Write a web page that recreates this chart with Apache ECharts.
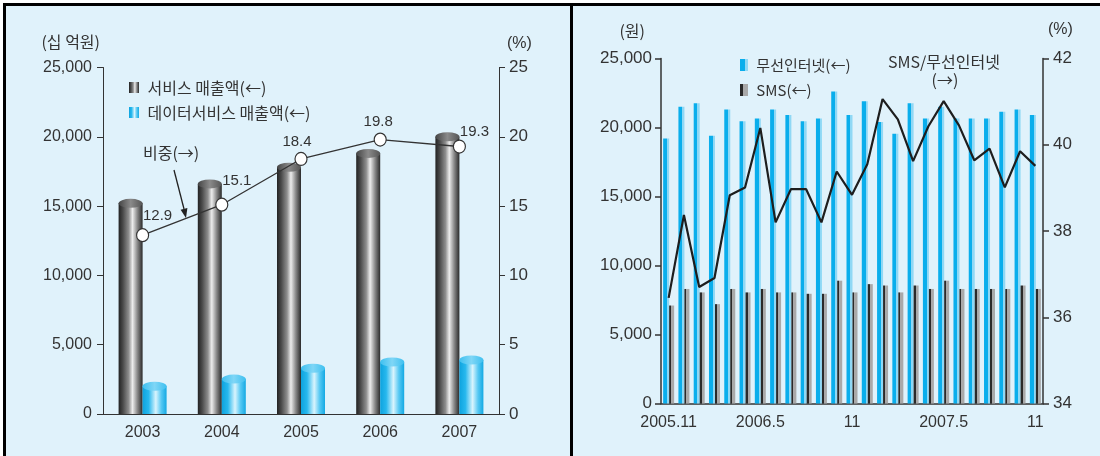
<!DOCTYPE html>
<html><head><meta charset="utf-8">
<script src="https://cdn.jsdelivr.net/npm/echarts@6/dist/echarts.min.js"></script>
<style>
html,body{margin:0;padding:0;background:#fff;}
#bg{position:absolute;left:3px;top:3px;width:1097px;height:453px;background:#e0f2fb;border-top:3px solid #000;border-left:3px solid #000;box-sizing:border-box;}
#sep{position:absolute;left:570px;top:3px;width:3px;height:453px;background:#000;}
#chart{position:absolute;left:0;top:0;width:1100px;height:456px;}
</style></head><body>
<div id="bg"></div><div id="sep"></div><div id="chart"></div>
<script>
// ---------- Left chart data ----------
const years = ['2003', '2004', '2005', '2006', '2007'];
const serviceSales = [15200, 16600, 17800, 18800, 20000];      // 서비스 매출액 (십 억원)
const dataServiceSales = [2000, 2520, 3300, 3750, 3900];       // 데이터서비스 매출액
const dataShare = [12.9, 15.1, 18.4, 19.8, 19.3];              // 비중 (%)

// ---------- Right chart data ----------
const months = ['2005.11','2005.12','2006.1','2006.2','2006.3','2006.4','2006.5','2006.6','2006.7','2006.8','2006.9','2006.10',
  '2006.11','2006.12','2007.1','2007.2','2007.3','2007.4','2007.5','2007.6','2007.7','2007.8','2007.9','2007.10','2007.11'];
const monthTickLabels = ['2005.11','','','','','','2006.5','','','','','','11','','','','','','2007.5','','','','','','11'];
const wirelessInternet = [19200,21500,21750,19400,21300,20450,20650,21300,20900,20450,20650,22600,
  20900,21900,20400,19550,21750,20650,21500,20650,20650,20650,21150,21300,20900];   // 무선인터넷 (원)
const sms = [7100,8300,8050,7200,8300,8050,8300,8050,8050,7950,7950,8900,
  8050,8650,8550,8050,8550,8300,8900,8300,8300,8300,8300,8550,8300];                 // SMS (원)
const smsRatio = [36.45,38.37,36.70,36.91,38.83,39.01,40.39,38.20,38.97,38.97,38.20,39.38,
  38.84,39.55,41.06,40.59,39.62,40.43,41.01,40.45,39.64,39.91,39.01,39.85,39.51];   // SMS/무선인터넷 (%)

// label offsets for the share labels (styling only)
const shareLabelOffsets = [[15,-19],[15,-24],[-4,-17],[-2,-18],[15,-15]];

const NUM = '"Liberation Sans",Arial,sans-serif';
const KR = '"Noto Sans CJK KR","Noto Sans",sans-serif';
const TXT = '#333';
const G = echarts.graphic.LinearGradient;

const grayCyl = new G(0,0,1,0,[{offset:0,color:'#222'},{offset:0.18,color:'#4a4a4a'},{offset:0.42,color:'#8e8e8e'},{offset:0.58,color:'#ececec'},{offset:0.78,color:'#8a8a8a'},{offset:1,color:'#2a2a2a'}]);
const blueCyl = new G(0,0,1,0,[{offset:0,color:'#0ea3de'},{offset:0.25,color:'#27b8ee'},{offset:0.55,color:'#d9f4fd'},{offset:0.78,color:'#55c8f3'},{offset:1,color:'#14a9e3'}]);
const grayCap = new G(0,0,1,0,[{offset:0,color:'#444'},{offset:0.5,color:'#8a8a8a'},{offset:1,color:'#555'}]);
const blueCap = new G(0,0,1,0,[{offset:0,color:'#3ec0f0'},{offset:0.5,color:'#7fd6f6'},{offset:1,color:'#3ec0f0'}]);
const blueBar = new G(0,0,1,0,[{offset:0,color:'#0aaeec'},{offset:0.62,color:'#0aaeec'},{offset:0.62,color:'#8fd8f5'},{offset:1,color:'#8fd8f5'}]);
const grayBar = new G(0,0,1,0,[{offset:0,color:'#2a2a2a'},{offset:0.4,color:'#2a2a2a'},{offset:0.4,color:'#a9a9a9'},{offset:1,color:'#a9a9a9'}]);

const fmt = v => v.toLocaleString('en-US');
const axisLineStyle = w => ({show:true, lineStyle:{color:'#333', width:w}});

const chart = echarts.init(document.getElementById('chart'), null, {renderer:'canvas'});
chart.setOption({
  animation: false,
  backgroundColor: 'transparent',
  grid: [
    {left:103, right:601, top:67.5, bottom:42},
    {left:661, right:57, top:58.5, bottom:52.5}
  ],
  legend: [
    {left:124, top:74, orient:'vertical', itemWidth:10, itemHeight:11, itemGap:8, icon:'rect', selectedMode:false,
     data:['서비스 매출액(←)','데이터서비스 매출액(←)'], formatter: n => ' ' + n,
     textStyle:{fontFamily:KR, fontSize:16, color:TXT, lineHeight:17}},
    {left:735, top:52, orient:'vertical', itemWidth:8, itemHeight:12, itemGap:9, icon:'rect', selectedMode:false,
     data:['무선인터넷(←)','SMS(←)'], formatter: n => ' ' + n,
     textStyle:{fontFamily:KR, fontSize:15, color:TXT, lineHeight:16}}
  ],
  xAxis: [
    {type:'category', gridIndex:0, data:years, axisLine:axisLineStyle(1), axisTick:{show:false},
     axisLabel:{margin:11, fontFamily:NUM, fontSize:16, color:TXT}},
    {type:'category', gridIndex:1, data:months, axisLine:axisLineStyle(1.5), axisTick:{show:false},
     axisLabel:{interval:0, margin:11, fontFamily:NUM, fontSize:16, color:TXT, formatter:(v,i)=>monthTickLabels[i]}}
  ],
  yAxis: [
    {type:'value', gridIndex:0, min:0, max:25000, interval:5000, splitLine:{show:false},
     axisLine:axisLineStyle(1), axisTick:{show:true, length:6, lineStyle:{color:'#333'}},
     axisLabel:{margin:11, fontFamily:NUM, fontSize:16, color:TXT, formatter:fmt},
     name:'(십 억원)', nameLocation:'end', nameGap:18,
     nameTextStyle:{fontFamily:KR, fontSize:16, color:TXT, align:'right', verticalAlign:'bottom', padding:[0,3,0,0]}},
    {type:'value', gridIndex:0, position:'right', min:0, max:25, interval:5, splitLine:{show:false},
     axisLine:axisLineStyle(1), axisTick:{show:true, length:6, lineStyle:{color:'#333'}},
     axisLabel:{margin:10, fontFamily:NUM, fontSize:17, color:TXT},
     name:'(%)', nameLocation:'end', nameGap:16,
     nameTextStyle:{fontFamily:NUM, fontSize:16, color:TXT, align:'left', verticalAlign:'bottom', padding:[0,0,0,8]}},
    {type:'value', gridIndex:1, min:0, max:25000, interval:5000, splitLine:{show:false},
     axisLine:axisLineStyle(1.5), axisTick:{show:true, length:6, lineStyle:{color:'#333', width:1.5}},
     axisLabel:{margin:9, fontFamily:NUM, fontSize:17, color:TXT, formatter:fmt},
     name:'(원)', nameLocation:'end', nameGap:20,
     nameTextStyle:{fontFamily:KR, fontSize:16, color:TXT, align:'right', verticalAlign:'bottom', padding:[0,16,0,0]}},
    {type:'value', gridIndex:1, position:'right', min:34, max:42, interval:2, splitLine:{show:false},
     axisLine:axisLineStyle(1.5), axisTick:{show:true, length:6, lineStyle:{color:'#333', width:1.5}},
     axisLabel:{margin:10, fontFamily:NUM, fontSize:17, color:TXT},
     name:'(%)', nameLocation:'end', nameGap:21,
     nameTextStyle:{fontFamily:NUM, fontSize:16, color:TXT, align:'left', verticalAlign:'bottom', padding:[0,0,0,5]}}
  ],
  series: [
    {name:'서비스 매출액(←)', type:'bar', xAxisIndex:0, yAxisIndex:0, data:serviceSales, barWidth:24, barGap:'0%',
     itemStyle:{color:grayCyl}, z:2},
    {name:'데이터서비스 매출액(←)', type:'bar', xAxisIndex:0, yAxisIndex:0, data:dataServiceSales, barWidth:24, barGap:'0%',
     itemStyle:{color:blueCyl}, z:2},
    {name:'cap1', type:'pictorialBar', xAxisIndex:0, yAxisIndex:0, data:serviceSales, barWidth:24, barGap:'0%',
     symbol:'circle', symbolSize:[24,9], symbolPosition:'end', symbolOffset:[0,'-50%'], itemStyle:{color:grayCap}, z:3},
    {name:'cap2', type:'pictorialBar', xAxisIndex:0, yAxisIndex:0, data:dataServiceSales, barWidth:24, barGap:'0%',
     symbol:'circle', symbolSize:[24,9], symbolPosition:'end', symbolOffset:[0,'-50%'], itemStyle:{color:blueCap}, z:3},
    {name:'비중(→)', type:'line', xAxisIndex:0, yAxisIndex:1, z:5,
     data: dataShare.map((v,i)=>({value:v, label:{offset:shareLabelOffsets[i]}})),
     symbol:'circle', symbolSize:[12,13], showAllSymbol:true,
     lineStyle:{color:'#333', width:1.3}, itemStyle:{color:'#fff', borderColor:'#333', borderWidth:1.2},
     label:{show:true, position:'inside', fontFamily:NUM, fontSize:15, color:TXT}},
    {name:'무선인터넷(←)', type:'bar', xAxisIndex:1, yAxisIndex:2, data:wirelessInternet, barWidth:6, barGap:'0%',
     itemStyle:{color:blueBar}},
    {name:'SMS(←)', type:'bar', xAxisIndex:1, yAxisIndex:2, data:sms, barWidth:5, barGap:'0%',
     itemStyle:{color:grayBar}},
    {name:'SMS/무선인터넷(→)', type:'line', xAxisIndex:1, yAxisIndex:3, data:smsRatio, symbol:'none', z:5,
     lineStyle:{color:'#1e1e1e', width:2.2}}
  ],
  graphic: [
    {type:'text', left:143, top:145, style:{text:'비중(→)', font:'16px '+KR, fill:TXT}},
    {type:'line', shape:{x1:174, y1:170, x2:184, y2:209}, style:{stroke:'#222', lineWidth:1.3}},
    {type:'polygon', shape:{points:[[186,218],[180.6,209.8],[187.4,208.0]]}, style:{fill:'#222'}},
    {type:'text', x:944, y:62, style:{text:'SMS/무선인터넷', font:'16px '+KR, fill:TXT, align:'center', verticalAlign:'middle'}},
    {type:'text', x:945, y:80, style:{text:'(→)', font:'16px '+KR, fill:TXT, align:'center', verticalAlign:'middle'}}
  ]
});
</script>
</body></html>
